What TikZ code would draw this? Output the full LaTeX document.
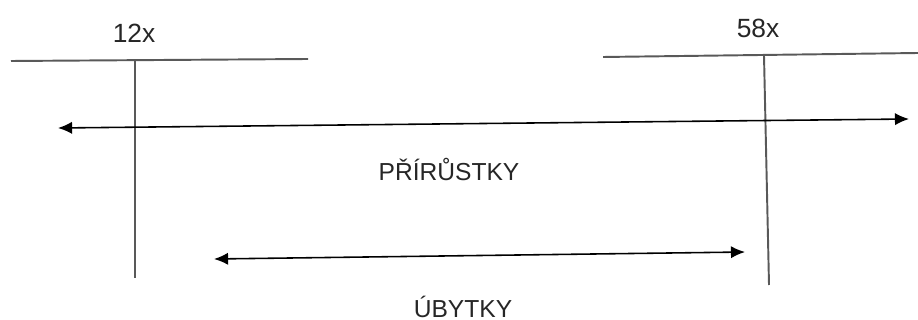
\documentclass[tikz,border=0pt]{standalone}
\usepackage{fontspec}
\setmainfont{Liberation Sans}
\usetikzlibrary{arrows.meta,positioning}

\begin{document}
\begin{tikzpicture}[x=0.02cm, y=-0.02cm,
    bar/.style={draw=black!65, line width=1.1pt},
    arr/.style={draw=black, line width=0.9pt,
      {Latex[length=8pt,width=7pt]}-{Latex[length=8pt,width=7pt]}},
    lbl/.style={font=\fontsize{14}{17}\selectfont, text=black!85, inner sep=0pt}]
  \useasboundingbox (0,0) rectangle (918,320);
  % left mark
  \coordinate (LW) at (11,61);
  \coordinate (LE) at (308,59);
  \coordinate (LT) at (135,60);
  \coordinate (LB) at (135,278);
  \node [lbl, font=\fontsize{15}{18}\selectfont] (N12) at (134,33) {12x};
  % right mark
  \coordinate (RW) at (603,57);
  \coordinate (RE) at (918,53);
  \coordinate (RT) at (764,56);
  \coordinate (RB) at (769,285);
  \node [lbl, font=\fontsize{15}{18}\selectfont] (N58) at (758,28) {58x};
  % ranges
  \coordinate (PL) at (58,128);
  \coordinate (PR) at (909,119);
  \coordinate (UL) at (214,259);
  \coordinate (UR) at (745,252);
  \node [lbl, anchor=base] (PRI) at (449,181) {PŘÍRŮSTKY};
  \node [lbl, anchor=base] (UBY) at (463,317) {ÚBYTKY};
  \draw [bar] (LW) -- (LE);
  \draw [bar] (LT) -- (LB);
  \draw [bar] (RW) -- (RE);
  \draw [bar] (RT) -- (RB);
  \draw [arr] (PL) -- (PR);
  \draw [arr] (UL) -- (UR);
\end{tikzpicture}
\end{document}
